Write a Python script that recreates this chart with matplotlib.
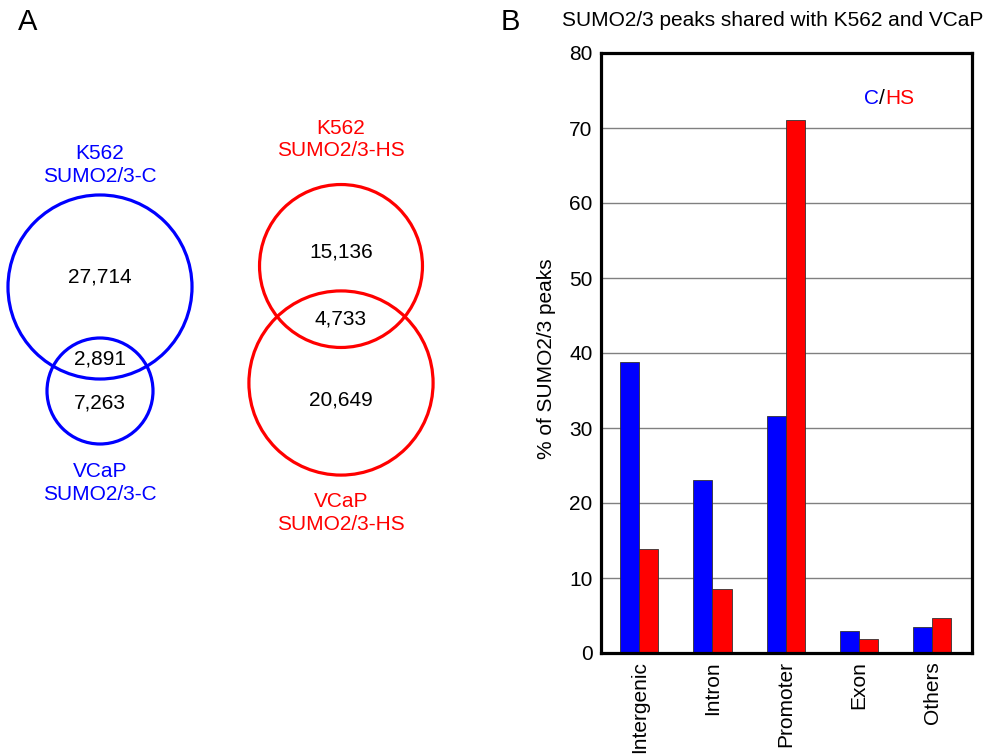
import numpy as np
import matplotlib
matplotlib.use('Agg')
import matplotlib.pyplot as plt
from matplotlib.patches import Circle

plt.rcParams['font.family'] = ['Liberation Sans', 'DejaVu Sans']

# Venn counts: (K562 only, shared, VCaP only)
counts_c = [27714, 2891, 7263]
counts_hs = [15136, 4733, 20649]

# bar chart data
categories = ['Intergenic', 'Intron', 'Promoter', 'Exon', 'Others']
pct_c = [38.8, 23.1, 31.6, 3.0, 3.5]
pct_hs = [13.9, 8.5, 71.1, 1.9, 4.7]
yticks = [0, 10, 20, 30, 40, 50, 60, 70, 80]

BLUE = '#0000ff'
RED = '#ff0000'
FS = 15

fig = plt.figure(figsize=(9.95, 7.55), dpi=100)

# panel A drawn on a pixel-coordinate canvas
ax0 = fig.add_axes([0, 0, 1, 1])
ax0.set_xlim(0, 995)
ax0.set_ylim(755, 0)
ax0.axis('off')

def fmt(n):
    return f'{n:,}'

def venn(ax, counts, color, cx, cy_top, cy_bot, scale, suffix, label_top_y, label_bot_y):
    a_only, shared, b_only = counts
    # circle area proportional to set size
    r_top = scale * np.sqrt(a_only + shared)
    r_bot = scale * np.sqrt(b_only + shared)
    ax.add_patch(Circle((cx, cy_top), r_top, fill=False, ec=color, lw=2.3))
    ax.add_patch(Circle((cx, cy_bot), r_bot, fill=False, ec=color, lw=2.3))
    # region labels
    top_edge_bot = cy_bot - r_bot
    bot_edge_top = cy_top + r_top
    y_a = 0.5 * (cy_top - r_top + top_edge_bot) / 2 + 0.5 * cy_top
    y_b = 0.6 * (bot_edge_top + cy_bot + r_bot) / 2 + 0.4 * cy_bot
    ax.text(cx, y_a, fmt(a_only), ha='center', va='center', fontsize=FS)
    ax.text(cx, (top_edge_bot + bot_edge_top) / 2, fmt(shared), ha='center', va='center', fontsize=FS)
    ax.text(cx, y_b, fmt(b_only), ha='center', va='center', fontsize=FS)
    ax.text(cx, label_top_y, 'K562\nSUMO2/3-' + suffix, ha='center', va='center',
            fontsize=FS, color=color, linespacing=1.25)
    ax.text(cx, label_bot_y, 'VCaP\nSUMO2/3-' + suffix, ha='center', va='center',
            fontsize=FS, color=color, linespacing=1.25)

venn(ax0, counts_c, BLUE, 100, 287, 391, 0.526, 'C', 165, 483)
venn(ax0, counts_hs, RED, 341, 266, 383, 0.578, 'HS', 139.5, 513)

ax0.text(18, 22, 'A', fontsize=21, va='center', ha='left')
ax0.text(501, 22, 'B', fontsize=21, va='center', ha='left')
ax0.text(773, 20, 'SUMO2/3 peaks shared with K562 and VCaP', fontsize=FS,
         va='center', ha='center')

# panel B bar chart
ax = fig.add_axes([601 / 995, 1 - 653 / 755, 371 / 995, 600 / 755])
x = np.arange(len(categories))
w = 0.26
ax.bar(x - w / 2, pct_c, w, color=BLUE, edgecolor='#333333', linewidth=0.6, zorder=3)
ax.bar(x + w / 2, pct_hs, w, color=RED, edgecolor='#333333', linewidth=0.6, zorder=3)
ax.set_xlim(-0.52, 4.54)
ax.set_ylim(0, 80)
ax.set_yticks(yticks)
ax.set_yticklabels([str(t) for t in yticks], fontsize=FS)
ax.set_xticks(x)
ax.set_xticklabels(categories, rotation=90, fontsize=FS, va='top', ha='center')
ax.tick_params(length=0, pad=6)
ax.yaxis.grid(True, color='#808080', lw=1, zorder=0)
ax.set_axisbelow(True)
for s in ax.spines.values():
    s.set_linewidth(2.3)
    s.set_zorder(5)
ax.set_ylabel('% of SUMO2/3 peaks', fontsize=FS)
ax.yaxis.set_label_coords(-0.122, 0.49)

# C/HS key
ax.text(0.757, 0.925, '/', transform=ax.transAxes, ha='center', va='center', fontsize=FS)
ax.text(0.748, 0.925, 'C', transform=ax.transAxes, ha='right', va='center', fontsize=FS, color=BLUE)
ax.text(0.766, 0.925, 'HS', transform=ax.transAxes, ha='left', va='center', fontsize=FS, color=RED)

fig.savefig('out.png', dpi=100)
